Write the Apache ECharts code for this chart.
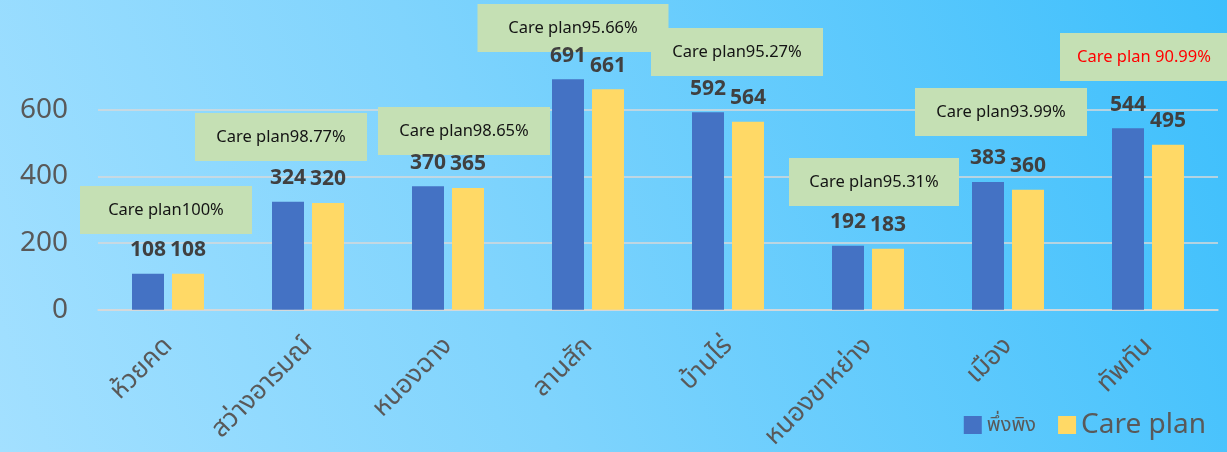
<!DOCTYPE html>
<html>
<head>
<meta charset="utf-8">
<script src="https://cdn.jsdelivr.net/npm/echarts@6/dist/echarts.min.js"></script>
<style>
  html, body { margin: 0; padding: 0; }
  #chart { width: 1227px; height: 452px;
    background: linear-gradient(70deg, #a3e0ff 0%, #80d4fd 40%, #3dbffc 100%); }
</style>
</head>
<body>
<div id="chart"></div>
<script>
// Districts and patient counts
const categories = ['ห้วยคด', 'สว่างอารมณ์', 'หนองฉาง', 'ลานสัก', 'บ้านไร่', 'หนองขาหย่าง', 'เมือง', 'ทัพทัน'];
const dependents = [108, 324, 370, 691, 592, 192, 383, 544];
const carePlan = [108, 320, 365, 661, 564, 183, 360, 495];
const yTicks = [0, 200, 400, 600];

// Callout box placement: offset from the category centre (px) and box centre y (px)
const calloutLayout = [
  { dx: -2, cy: 210, w: 172 },
  { dx: -27, cy: 137, w: 172 },
  { dx: 16, cy: 131, w: 172 },
  { dx: -15, cy: 28, w: 191 },
  { dx: 9, cy: 52, w: 172 },
  { dx: 6, cy: 182, w: 170 },
  { dx: -7, cy: 112, w: 172 },
  { dx: -4, cy: 57, w: 168, red: true, spaced: true }
];

const FONT = '"Noto Sans", "Noto Sans Thai", Tahoma, sans-serif';
const chart = echarts.init(document.getElementById('chart'), null, { renderer: 'canvas' });

const valueLabel = {
  show: true, position: 'top', distance: 13,
  color: '#404040', fontWeight: 'bold', fontSize: 21, fontFamily: FONT
};

chart.setOption({
  backgroundColor: 'transparent',
  animation: false,
  grid: { left: 98, right: 9, top: 76.3, bottom: 140, containLabel: false },
  legend: {
    right: 16, bottom: 8,
    itemWidth: 18, itemHeight: 18, itemGap: 22,
    icon: 'rect',
    data: ['พึ่งพิง', 'Care plan'],
    formatter: n => n === 'Care plan' ? '{b|' + n + '}' : '{a|' + n + '}',
    textStyle: {
      rich: {
        a: { fontSize: 20, color: '#595959', fontFamily: FONT },
        b: { fontSize: 28, color: '#595959', fontFamily: FONT }
      }
    }
  },
  xAxis: {
    type: 'category', data: categories,
    axisLine: { show: true, lineStyle: { color: '#d9d9d9', width: 1.5 } },
    axisTick: { show: false },
    axisLabel: { rotate: 45, margin: 32, fontSize: 26, color: '#595959', fontFamily: FONT, interval: 0 }
  },
  yAxis: {
    type: 'value', min: 0, max: 700, interval: 200,
    axisLine: { show: false }, axisTick: { show: false },
    axisLabel: {
      margin: 30, fontSize: 28, color: '#595959', fontFamily: FONT, showMaxLabel: false,
      formatter: v => yTicks.includes(v) ? String(v) : ''
    },
    splitLine: { show: true, showMaxLine: false, lineStyle: { color: '#d9d9d9', width: 1.5 } }
  },
  series: [
    { name: 'พึ่งพิง', type: 'bar', data: dependents, barWidth: 32, barGap: '25%',
      itemStyle: { color: '#4472c4' }, label: valueLabel },
    { name: 'Care plan', type: 'bar', data: carePlan, barWidth: 32,
      itemStyle: { color: '#ffd966' }, label: valueLabel }
  ]
});

// Care plan coverage callouts, percentages computed from the counts
const callouts = categories.map((c, i) => {
  const pct = carePlan[i] / dependents[i] * 100;
  const pctText = Math.round(pct * 100) % 100 === 0 ? String(Math.round(pct)) : pct.toFixed(2);
  const L = calloutLayout[i];
  const cx = chart.convertToPixel({ xAxisIndex: 0 }, c) + L.dx;
  const h = 48;
  return {
    type: 'group', x: cx - L.w / 2, y: L.cy - h / 2,
    children: [
      { type: 'rect', shape: { x: 0, y: 0, width: L.w, height: h }, style: { fill: '#c5e0b4' } },
      { type: 'text', x: L.w / 2, y: h / 2,
        style: { text: 'Care plan' + (L.spaced ? ' ' : '') + pctText + '%', align: 'center', verticalAlign: 'middle',
          fill: L.red ? '#ff0000' : '#141414', fontSize: 16.5, fontFamily: FONT } }
    ]
  };
});
chart.setOption({ graphic: callouts });
</script>
</body>
</html>
